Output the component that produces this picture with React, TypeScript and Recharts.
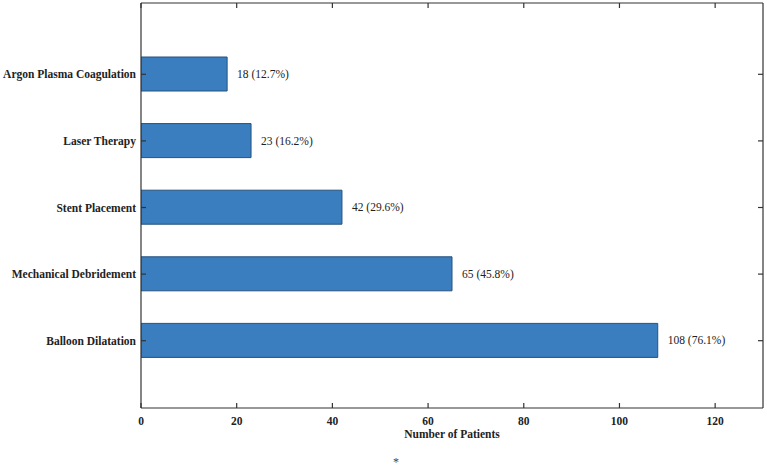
import React from "react";
import {
  Bar,
  BarChart,
  LabelList,
  XAxis,
  YAxis,
} from "recharts";

// Interventions, top to bottom
const procedures = [
  "Argon Plasma Coagulation",
  "Laser Therapy",
  "Stent Placement",
  "Mechanical Debridement",
  "Balloon Dilatation",
];
const patients = [18, 23, 42, 65, 108];
const percents = [12.7, 16.2, 29.6, 45.8, 76.1];
const xTicks = [0, 20, 40, 60, 80, 100, 120];

const data = procedures.map((name, i) => ({
  name,
  patients: patients[i],
  label: `${patients[i]} (${percents[i].toFixed(1)}%)`,
}));

const FONT = '"Liberation Serif", "Times New Roman", serif';
const AXIS = "#333";

// single-line category label (default tick wraps long names)
function CategoryTick(props: any) {
  const { x, y, payload } = props;
  return (
    <text
      x={x}
      y={y}
      dy="0.35em"
      textAnchor="end"
      fontFamily={FONT}
      fontSize={11.5}
      fontWeight={700}
      fill="#222"
    >
      {payload.value}
    </text>
  );
}

const NoTick = () => <g />;

export default function App() {
  const tickFont = { fontFamily: FONT, fontSize: 11.5, fontWeight: 700, fill: "#222" };

  return (
    <div style={{ position: "absolute", left: 0, top: 0, width: 767, height: 468, background: "#fff" }}>
      <BarChart
        width={767}
        height={468}
        data={data}
        layout="vertical"
        margin={{ top: 2, right: 3, bottom: 0, left: 0 }}
        barCategoryGap={0}
      >
        <XAxis
          type="number"
          dataKey="patients"
          domain={[0, 130]}
          ticks={xTicks}
          allowDataOverflow
          height={60}
          stroke={AXIS}
          strokeWidth={1.2}
          tickSize={-5}
          tickMargin={14}
          tick={tickFont}
          label={{
            value: "Number of Patients",
            position: "insideTop",
            offset: 22,
            style: { fontFamily: FONT, fontSize: 11.5, fontWeight: 700, fill: "#222" },
          }}
        />
        <XAxis
          xAxisId="top"
          orientation="top"
          type="number"
          dataKey="patients"
          domain={[0, 130]}
          ticks={xTicks}
          allowDataOverflow
          height={1}
          stroke={AXIS}
          strokeWidth={1.2}
          tickSize={-5}
          tick={NoTick}
        />
        <YAxis
          type="category"
          dataKey="name"
          width={141}
          padding={{ top: 38, bottom: 34 }}
          stroke={AXIS}
          strokeWidth={1.2}
          tickSize={-5}
          tickMargin={10}
          tick={<CategoryTick />}
          interval={0}
        />
        <YAxis
          yAxisId="right"
          orientation="right"
          type="category"
          dataKey="name"
          width={1}
          padding={{ top: 38, bottom: 34 }}
          stroke={AXIS}
          strokeWidth={1.2}
          tickSize={-5}
          tick={NoTick}
          interval={0}
        />
        <Bar
          dataKey="patients"
          barSize={34}
          fill="#3A7EBF"
          stroke="#24527E"
          strokeWidth={1}
          isAnimationActive={false}
        >
          <LabelList
            dataKey="label"
            position="right"
            offset={10}
            style={{ fontFamily: FONT, fontSize: 11.5, fill: "#222" }}
          />
        </Bar>
      </BarChart>
      <div
        style={{
          position: "absolute",
          left: 393,
          top: 455,
          fontFamily: FONT,
          fontSize: 12,
          color: "#444",
        }}
      >
        *
      </div>
    </div>
  );
}
